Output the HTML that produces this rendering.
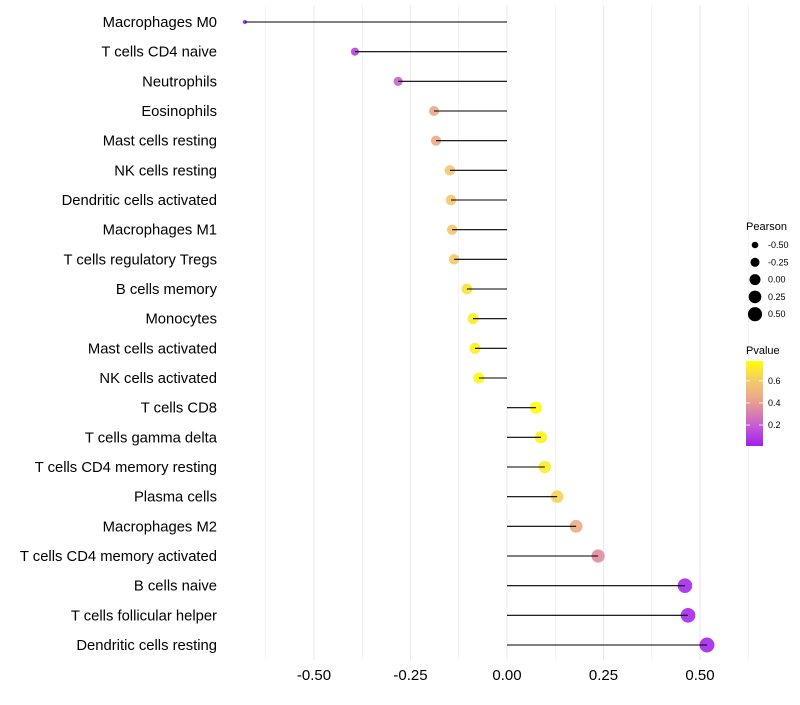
<!DOCTYPE html>
<html><head><meta charset="utf-8"><style>
body{margin:0;background:#fff;font-family:"Liberation Sans",sans-serif}
</style></head><body>
<svg id="chart" width="800" height="700" xmlns="http://www.w3.org/2000/svg">
<g id="grid"></g>
<g id="points"></g>
<g id="segs"></g>
<g id="labels"></g>
<g id="xticks"></g>
<g>
<text x="746" y="230" font-size="11">Pearson</text>
<g id="sizeLegend"></g>
</g>
<g>
<text x="746" y="354" font-size="11">Pvalue</text>
<defs><linearGradient id="pg" x1="0" y1="1" x2="0" y2="0"></linearGradient></defs>
<rect x="746" y="361" width="17" height="85" fill="url(#pg)"/>
<g id="colorTicks"></g>
</g>
</svg>
<script>
const categories=["Macrophages M0","T cells CD4 naive","Neutrophils","Eosinophils","Mast cells resting","NK cells resting","Dendritic cells activated","Macrophages M1","T cells regulatory  Tregs ","B cells memory","Monocytes","Mast cells activated","NK cells activated","T cells CD8","T cells gamma delta","T cells CD4 memory resting","Plasma cells","Macrophages M2","T cells CD4 memory activated","B cells naive","T cells follicular helper","Dendritic cells resting"];
const pearson=[-0.679,-0.394,-0.282,-0.189,-0.184,-0.148,-0.145,-0.142,-0.137,-0.104,-0.088,-0.083,-0.073,0.075,0.088,0.098,0.130,0.179,0.236,0.461,0.469,0.518];
const pvalue=[0.01,0.12,0.22,0.45,0.45,0.58,0.58,0.59,0.6,0.68,0.72,0.73,0.76,0.77,0.74,0.72,0.63,0.47,0.35,0.04,0.04,0.03];
const xTicks=[-0.5,-0.25,0,0.25,0.5];
const xTickLabels=["-0.50","-0.25","0.00","0.25","0.50"];
const sizeLegendVals=[-0.5,-0.25,0,0.25,0.5];
const colorTickVals=[0.2,0.4,0.6];

const NS="http://www.w3.org/2000/svg";
const X=v=>507+v*386;
const Y=i=>22+i*29.667;
const R=v=>Math.sqrt(Math.max(1,33.5+43.3*v));
const CB=p=>446-(p-0.01)/0.77*85;
const stops=[[0.01,[160,32,240]],[0.2,[198,94,208]],[0.35,[224,140,160]],[0.45,[235,170,136]],[0.6,[245,202,106]],[0.78,[255,255,0]]];
function col(p){p=Math.max(0.01,Math.min(0.78,p));
 for(let i=0;i<stops.length-1;i++){const[a,ca]=stops[i],[b,cb]=stops[i+1];
  if(p<=b){const t=(p-a)/(b-a);return `rgb(${ca.map((x,k)=>Math.round(x+(cb[k]-x)*t))})`;}}
 return 'rgb(255,255,0)';}
function mk(tag,attrs,parent){const e=document.createElementNS(NS,tag);for(const k in attrs)e.setAttribute(k,attrs[k]);parent.appendChild(e);return e;}
const pg=document.getElementById('pg');
stops.forEach(([p,c])=>mk('stop',{offset:(p-0.01)/0.77,'stop-color':`rgb(${c})`},pg));
const grid=document.getElementById('grid');
for(let v=-0.625;v<=0.63;v+=0.125){
 const l=mk('line',{x1:X(v),x2:X(v),y1:5,y2:660,stroke:'#ebebeb','stroke-width':Math.abs(v*4-Math.round(v*4))<1e-6?1.1:0.6},grid);
 
 
}
const pts=document.getElementById('points'),segs=document.getElementById('segs'),labels=document.getElementById('labels');
categories.forEach((c,i)=>{
 const y=Y(i);
 const p=mk('circle',{cx:X(pearson[i]),cy:y,r:R(pearson[i]),fill:col(pvalue[i]),'fill-opacity':0.9},pts);
 
 
 const s=mk('line',{x1:X(0),x2:X(pearson[i]),y1:y,y2:y,stroke:'#000','stroke-width':1.1},segs);
 
 
 const t=mk('text',{x:217,y:y+5,'text-anchor':'end','font-size':14.8,fill:'#000'},labels);
 t.textContent=c;
 
 
});
const xt=document.getElementById('xticks');
xTicks.forEach((v,i)=>{
 const t=mk('text',{x:X(v),y:680,'text-anchor':'middle','font-size':15,fill:'#000'},xt);
 t.textContent=xTickLabels[i];
 
 
});
const sl=document.getElementById('sizeLegend');
sizeLegendVals.forEach((v,i)=>{
 const y=245+i*17.3;
 const c=mk('circle',{cx:755,cy:y,r:R(v)*0.95,fill:'#000'},sl);
 
 
 const t=mk('text',{x:768,y:y+3,'font-size':9},sl);
 t.textContent=v.toFixed(2);
 
 
});
const ct=document.getElementById('colorTicks');
colorTickVals.forEach(v=>{
 const y=CB(v);
 mk('line',{x1:746,x2:750,y1:y,y2:y,stroke:'#fff','stroke-width':0.8},ct);
 mk('line',{x1:759,x2:763,y1:y,y2:y,stroke:'#fff','stroke-width':0.8},ct);
 const t=mk('text',{x:768,y:y+3,'font-size':9},ct);
 t.textContent=v.toFixed(1);
 
 
});
</script>
</body></html>
